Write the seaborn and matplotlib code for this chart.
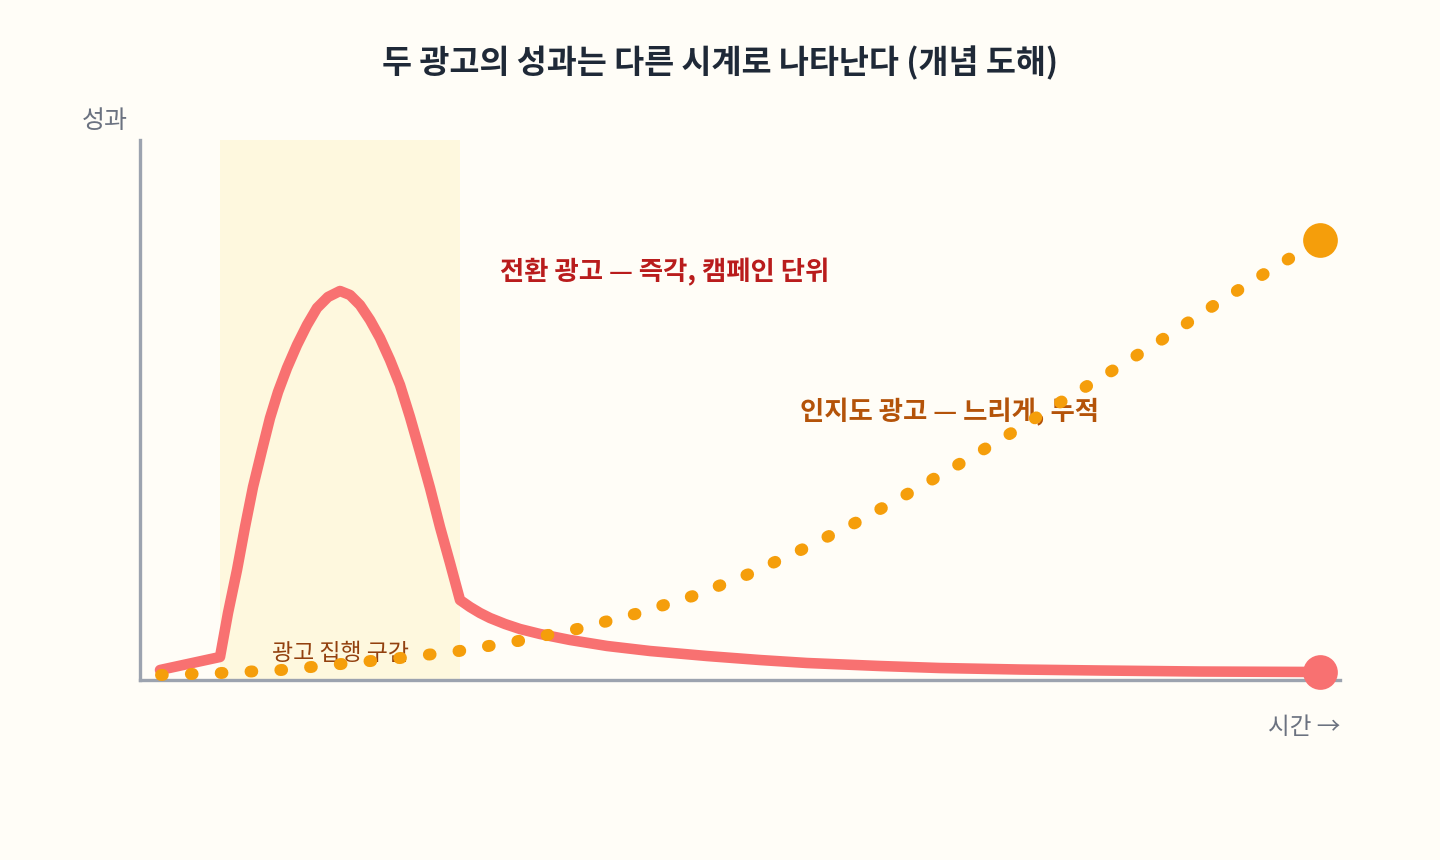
import matplotlib
matplotlib.use("Agg")
import matplotlib.pyplot as plt
import seaborn as sns
import pandas as pd

# time axis runs 0..120, performance axis 0..100 (conceptual units)
conv_time = [2, 8, 8.8, 9.7, 10.5, 11.3, 12.2, 13, 13.8, 14.7, 15.7, 16.7, 17.7, 18.8, 20,
             21, 22, 23, 24, 25, 26, 27, 28, 29, 30, 31, 32,
             33, 34, 35, 36.5, 38, 40, 43, 46.7, 51, 56.7, 62, 66.7, 74, 80, 88, 96, 106, 118]
conv_perf = [1.85, 4.26, 12.41, 20.37, 28.33, 35.74, 42.59, 48.52, 53.33, 57.78, 62.04, 65.74, 68.89, 70.93, 72.04,
             71.30, 69.44, 66.67, 63.33, 59.26, 54.63, 48.70, 42.22, 35.56, 28.33, 21.67, 14.81,
             13.52, 12.41, 11.48, 10.37, 9.44, 8.52, 7.41, 6.30, 5.37, 4.44, 3.70, 3.15, 2.59, 2.22, 1.94, 1.76, 1.57, 1.48]

aware_time = [2.1, 8.1, 14.1, 20.1, 26, 31.9, 37.8, 43.7, 49.5, 55.3, 60.9, 66.3, 71.7, 76.9,
              82.1, 87.3, 92.4, 97.5, 102.6, 107.6, 112.7, 118]
aware_perf = [0.93, 1.30, 1.85, 2.96, 4.07, 5.37, 7.22, 9.44, 12.22, 15.56, 19.63, 24.26, 29.26, 34.63,
              40.19, 45.93, 51.85, 57.59, 63.52, 69.63, 75.56, 81.48]

campaign_window = (8, 32)

title = "두 광고의 성과는 다른 시계로 나타난다 (개념 도해)"
conv_label = "전환 광고 — 즉각, 캠페인 단위"
aware_label = "인지도 광고 — 느리게, 누적"
window_label = "광고 집행 구간"
y_label = "성과"
x_label = "시간 →"

BG = "#fffdf7"
RED = "#f87171"
AMBER = "#f59e0b"
GRAY = "#9ca3af"

sns.set_theme(style="white")
plt.rcParams['font.family'] = ['Noto Sans CJK KR', 'DejaVu Sans']

conv_df = pd.DataFrame({"t": conv_time, "perf": conv_perf})
aware_df = pd.DataFrame({"t": aware_time, "perf": aware_perf})

fig = plt.figure(figsize=(14.4, 8.6), dpi=100, facecolor=BG)
ax = fig.add_axes([140 / 1440, 180 / 860, 1200 / 1440, 540 / 860])
ax.set_facecolor(BG)
ax.set_xlim(0, 120)
ax.set_ylim(0, 100)

# campaign window shading
ax.axvspan(*campaign_window, color="#fef8de", lw=0, zorder=0)

# conversion ad: sharp spike then decay
sns.lineplot(data=conv_df, x="t", y="perf", ax=ax, color=RED, lw=7.6,
             solid_capstyle="round", solid_joinstyle="round", zorder=3, clip_on=False)
ax.plot(conv_time[-1], conv_perf[-1], "o", ms=25, color=RED, mec="none", zorder=6, clip_on=False)

# awareness ad: slow accumulation, dotted
sns.lineplot(data=aware_df, x="t", y="perf", ax=ax, color=AMBER, lw=8.6,
             linestyle=(0, (0.15, 2.35)), dash_capstyle="round", zorder=5, clip_on=False)
ax.plot(aware_time[-1], aware_perf[-1], "o", ms=25, color=AMBER, mec="none", zorder=6, clip_on=False)

# labels in data space
ax.text(20, 5.0, window_label, ha="center", va="center", fontsize=16.5, color="#92400e", zorder=4)
ax.text(36, 75.5, conv_label, ha="left", va="center", fontsize=19, fontweight="bold", color="#b91c1c", zorder=4)
ax.text(66, 49.6, aware_label, ha="left", va="center", fontsize=19, fontweight="bold", color="#b45309", zorder=4)

# axes styling
for side in ["top", "right"]:
    ax.spines[side].set_visible(False)
for side in ["left", "bottom"]:
    ax.spines[side].set_color(GRAY)
    ax.spines[side].set_linewidth(2.4)
    ax.spines[side].set_zorder(2)
ax.set_xticks([])
ax.set_yticks([])
ax.set_xlabel("")
ax.set_ylabel("")

fig.text(720 / 1440, 1 - 63 / 860, title, ha="center", va="center", fontsize=23.5,
         fontweight="bold", color="#1f2937")
fig.text(105 / 1440, 1 - 121 / 860, y_label, ha="center", va="center", fontsize=18, color="#6b7280")
fig.text(1340 / 1440, 1 - 728 / 860, x_label, ha="right", va="center", fontsize=17, color="#6b7280")

fig.savefig("out.png", dpi=100, facecolor=BG)
